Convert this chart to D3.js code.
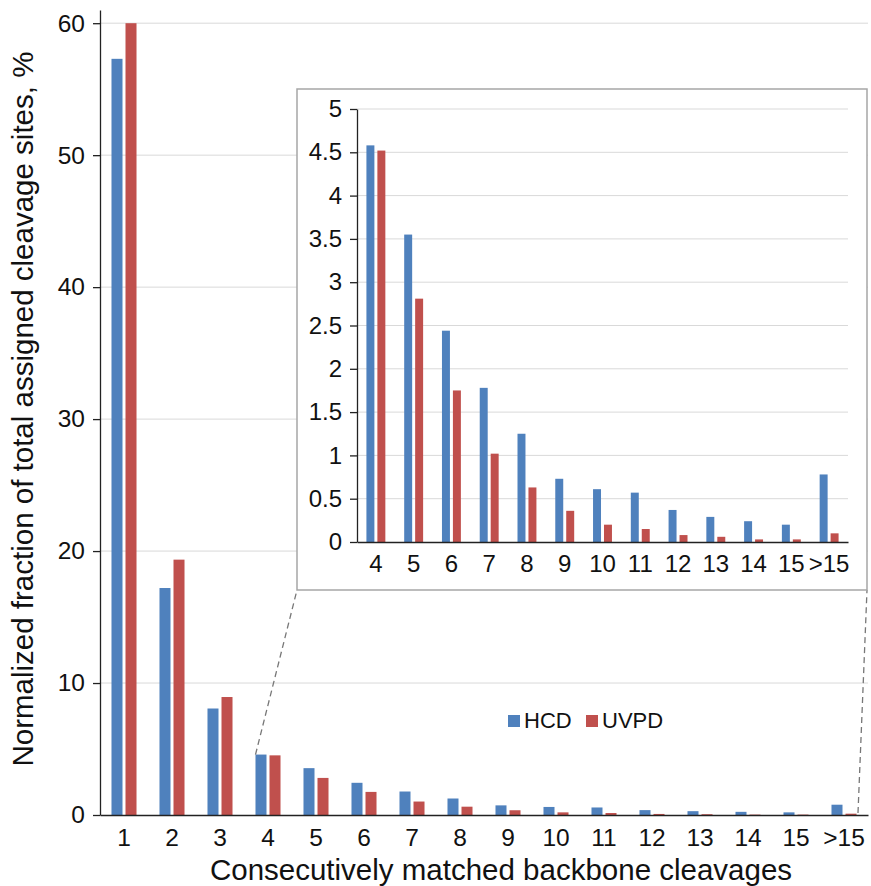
<!DOCTYPE html>
<html>
<head>
<meta charset="utf-8">
<script src="https://cdnjs.cloudflare.com/ajax/libs/d3/7.8.5/d3.min.js"></script>
<style>
  html, body { margin: 0; padding: 0; background: #fff; }
  svg { display: block; font-family: "Liberation Sans", Arial, sans-serif; }
</style>
</head>
<body>
<svg id="chart" width="871" height="886"></svg>
<script>
// Distribution of consecutively matched backbone cleavages (HCD vs UVPD)
const categories = ["1", "2", "3", "4", "5", "6", "7", "8", "9", "10", "11", "12", "13", "14", "15", ">15"];
const hcd  = [57.3, 17.2, 8.07, 4.58, 3.55, 2.44, 1.78, 1.25, 0.73, 0.61, 0.57, 0.37, 0.29, 0.24, 0.20, 0.78];
const uvpd = [60.0, 19.35, 8.94, 4.52, 2.81, 1.75, 1.02, 0.63, 0.36, 0.20, 0.15, 0.08, 0.06, 0.03, 0.03, 0.10];
const seriesNames = ["HCD", "UVPD"];
const colors = { HCD: "#4F81BD", UVPD: "#C0504D" };
const mainTicks = [0, 10, 20, 30, 40, 50, 60];
const insetTicks = [0, 0.5, 1, 1.5, 2, 2.5, 3, 3.5, 4, 4.5, 5];
const insetStart = 3; // inset zooms into categories 4 .. >15

const rows = categories.map((c, i) => ({ cat: c, HCD: hcd[i], UVPD: uvpd[i] }));
const insetRows = rows.slice(insetStart);

const svg = d3.select("#chart");
const gridColor = "#d9d9d9";
const axisColor = "#222";
const textColor = "#111";

// ---------- main chart ----------
const x = d3.scaleBand().domain(categories).range([100, 868]);
const y = d3.scaleLinear().domain([0, 61]).range([815, 10]);
const sub = d3.scaleBand().domain(seriesNames).range([0, x.bandwidth()])
  .paddingInner(3 / 14).paddingOuter(0.82);

const main = svg.append("g");

main.append("g").selectAll("line").data(mainTicks.filter(t => t > 0)).join("line")
  .attr("x1", x.range()[0]).attr("x2", x.range()[1])
  .attr("y1", d => y(d)).attr("y2", d => y(d))
  .attr("stroke", gridColor).attr("stroke-width", 1);

main.append("g").selectAll("g").data(rows).join("g")
  .attr("transform", d => `translate(${x(d.cat)},0)`)
  .selectAll("rect").data(d => seriesNames.map(k => ({ k, v: d[k] }))).join("rect")
  .attr("x", d => sub(d.k)).attr("width", sub.bandwidth())
  .attr("y", d => y(d.v)).attr("height", d => y(0) - y(d.v))
  .attr("fill", d => colors[d.k]);

const yAxis = main.append("g").attr("transform", `translate(${x.range()[0]},0)`)
  .call(d3.axisLeft(y).tickValues(mainTicks).tickSize(7).tickPadding(8).tickSizeOuter(0));
const xAxis = main.append("g").attr("transform", `translate(0,${y(0)})`)
  .call(d3.axisBottom(x).tickSize(0).tickPadding(14));
[yAxis, xAxis].forEach(a => {
  a.selectAll("path, line").attr("stroke", axisColor).attr("stroke-width", 1.3);
  a.selectAll("text").attr("fill", textColor).style("font-size", "24.5px");
});

main.append("text")
  .attr("x", (x.range()[0] + x.range()[1]) / 2 + 17).attr("y", 880)
  .attr("text-anchor", "middle").attr("fill", textColor).style("font-size", "29.5px")
  .text("Consecutively matched backbone cleavages");

main.append("text")
  .attr("transform", `translate(33,${(y(0) + y(60)) / 2 - 10}) rotate(-90)`)
  .attr("text-anchor", "middle").attr("fill", textColor).style("font-size", "29.5px")
  .text("Normalized fraction of total assigned cleavage sites, %");

// legend
const legend = main.append("g").attr("transform", "translate(508,712)");
const legendItems = legend.selectAll("g").data(seriesNames).join("g")
  .attr("transform", (d, i) => `translate(${i * 78},0)`);
legendItems.append("rect").attr("width", 12).attr("height", 12).attr("y", 3)
  .attr("fill", d => colors[d]);
legendItems.append("text").attr("x", 16).attr("y", 16)
  .attr("fill", textColor).style("font-size", "22px").text(d => d);

// ---------- inset ----------
const box = { x0: 297, y0: 89, x1: 867, y1: 590 };
const xi = d3.scaleBand().domain(insetRows.map(d => d.cat)).range([357, 848]);
const yi = d3.scaleLinear().domain([0, 5]).range([542, 109]);
const subi = d3.scaleBand().domain(seriesNames).range([0, xi.bandwidth()])
  .paddingInner(3 / 11).paddingOuter(0.86);

// dashed connectors from the zoomed region of the main chart to the inset box
const connectors = [
  [x(categories[insetStart]) + sub("HCD"), y(hcd[insetStart]), box.x0, box.y1],
  [x(categories[categories.length - 1]) + x.bandwidth() - 10, y(0) - 2, box.x1, box.y1]
];
main.append("g").selectAll("line").data(connectors).join("line")
  .attr("x1", d => d[0]).attr("y1", d => d[1]).attr("x2", d => d[2]).attr("y2", d => d[3])
  .attr("stroke", "#777").attr("stroke-width", 1.3).attr("stroke-dasharray", "6,4");

const inset = svg.append("g");
inset.append("rect")
  .attr("x", box.x0).attr("y", box.y0)
  .attr("width", box.x1 - box.x0).attr("height", box.y1 - box.y0)
  .attr("fill", "#fff").attr("stroke", "#a6a6a6").attr("stroke-width", 1.5);

inset.append("g").selectAll("line").data(insetTicks.filter(t => t > 0)).join("line")
  .attr("x1", xi.range()[0]).attr("x2", xi.range()[1])
  .attr("y1", d => yi(d)).attr("y2", d => yi(d))
  .attr("stroke", gridColor).attr("stroke-width", 1);

inset.append("g").selectAll("g").data(insetRows).join("g")
  .attr("transform", d => `translate(${xi(d.cat)},0)`)
  .selectAll("rect").data(d => seriesNames.map(k => ({ k, v: d[k] }))).join("rect")
  .attr("x", d => subi(d.k)).attr("width", subi.bandwidth())
  .attr("y", d => yi(d.v)).attr("height", d => yi(0) - yi(d.v))
  .attr("fill", d => colors[d.k]);

const yiAxis = inset.append("g").attr("transform", `translate(${xi.range()[0]},0)`)
  .call(d3.axisLeft(yi).tickValues(insetTicks).tickFormat(d3.format("")).tickSize(7).tickPadding(8).tickSizeOuter(0));
const xiAxis = inset.append("g").attr("transform", `translate(0,${yi(0)})`)
  .call(d3.axisBottom(xi).tickSize(0).tickPadding(13));
[yiAxis, xiAxis].forEach(a => {
  a.selectAll("path, line").attr("stroke", axisColor).attr("stroke-width", 1.3);
  a.selectAll("text").attr("fill", textColor).style("font-size", "24px");
});
</script>
</body>
</html>
